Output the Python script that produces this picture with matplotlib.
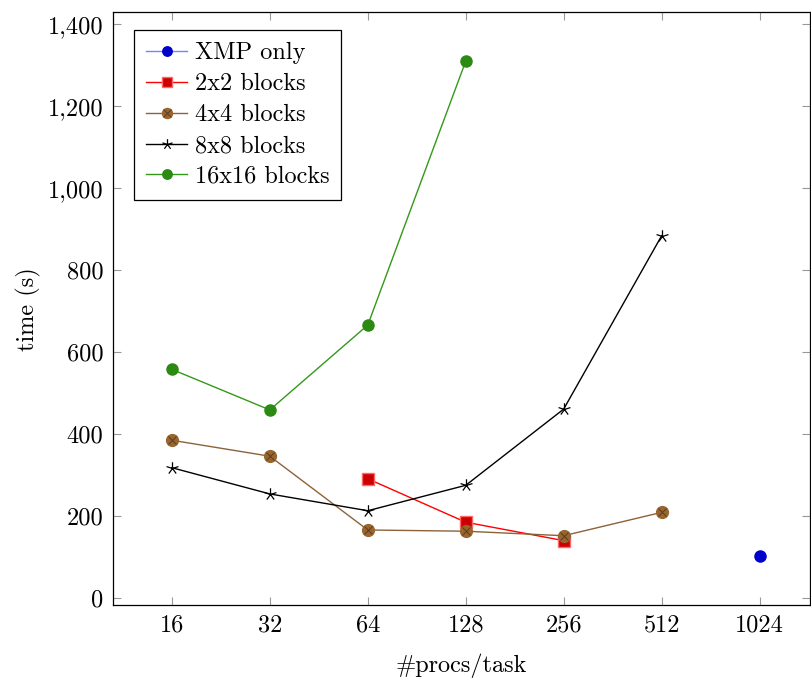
import numpy as np
import matplotlib
matplotlib.use("Agg")
import matplotlib.pyplot as plt
from matplotlib.path import Path
from matplotlib.ticker import FixedLocator, FuncFormatter, NullLocator

plt.rcParams['font.family'] = ['cmr10', 'DejaVu Serif']
plt.rcParams['mathtext.fontset'] = 'cm'
plt.rcParams['axes.formatter.use_mathtext'] = True

procs = [16, 32, 64, 128, 256, 512, 1024]

xmp_x = [1024]
xmp_y = [102]

b2_x = [64, 128, 256]
b2_y = [291, 185, 140]

b4_x = [16, 32, 64, 128, 256, 512]
b4_y = [385, 346, 166, 163, 152, 209]

b8_x = [16, 32, 64, 128, 256, 512]
b8_y = [318, 254, 213, 275, 461, 884]

b16_x = [16, 32, 64, 128]
b16_y = [558, 459, 666, 1310]

y_ticks = [0, 200, 400, 600, 800, 1000, 1200, 1400]
labels = ['XMP only', '2x2 blocks', '4x4 blocks', '8x8 blocks', '16x16 blocks']

FS = 17.5

# pgfplots-like five spoke star
ang = np.deg2rad(90 + 72 * np.arange(5))
verts, codes = [], []
for a in ang:
    verts += [(0, 0), (np.cos(a), np.sin(a))]
    codes += [Path.MOVETO, Path.LINETO]
star = Path(verts, codes)

fig = plt.figure(figsize=(8.12, 6.78), dpi=100)
ax = fig.add_axes([0.139, 0.1077, 0.858, 0.874])

h1, = ax.plot(xmp_x, xmp_y, color='#7f7fff', lw=1, marker='o', ms=8,
              mfc='#0000cc', mec='#0000cc')
h2, = ax.plot(b2_x, b2_y, color='red', lw=1, marker='s', ms=8,
              mfc='#cc0000', mec='#ff6666')
h3, = ax.plot(b4_x, b4_y, color='#8c6239', lw=1, marker='o', ms=8.5,
              mfc='#99652e', mec='#99652e')
h3x, = ax.plot(b4_x, b4_y, ls='none', marker='x', ms=6, mew=0.7, mec='#5c3a1a')
h4, = ax.plot(b8_x, b8_y, color='black', lw=1, marker=star, ms=9,
              mfc='none', mec='black', mew=0.9)
h5, = ax.plot(b16_x, b16_y, color='#339919', lw=1, marker='o', ms=8,
              mfc='#2b8a12', mec='#2b8a12')

ax.set_xscale('log', base=2)
ax.set_xlim(2 ** 3.398, 2 ** 10.51)
ax.set_ylim(-17, 1429)
ax.xaxis.set_major_locator(FixedLocator(procs))
ax.xaxis.set_minor_locator(NullLocator())
ax.xaxis.set_major_formatter(FuncFormatter(lambda v, p: f"{int(round(v))}"))
ax.yaxis.set_major_locator(FixedLocator(y_ticks))
ax.yaxis.set_major_formatter(FuncFormatter(lambda v, p: f"{int(v):,}"))

ax.tick_params(direction='in', length=6, width=0.8, color='#999999',
               top=True, right=True, labelsize=FS, pad=7)
for s in ax.spines.values():
    s.set_linewidth(0.9)

ax.set_xlabel('#procs/task', fontsize=FS, labelpad=12)
ax.set_ylabel('time (s)', fontsize=FS, labelpad=5)

leg = ax.legend([h1, h2, (h3, h3x), h4, h5], labels,
                loc='upper left', bbox_to_anchor=(0.030, 0.970), fontsize=FS,
                frameon=True, fancybox=False, edgecolor='black', framealpha=1,
                handlelength=1.7, handletextpad=0.3, labelspacing=0.36,
                borderpad=0.5, borderaxespad=0, markerscale=0.85)
leg.get_frame().set_linewidth(0.9)

fig.savefig('out.png', dpi=100)
